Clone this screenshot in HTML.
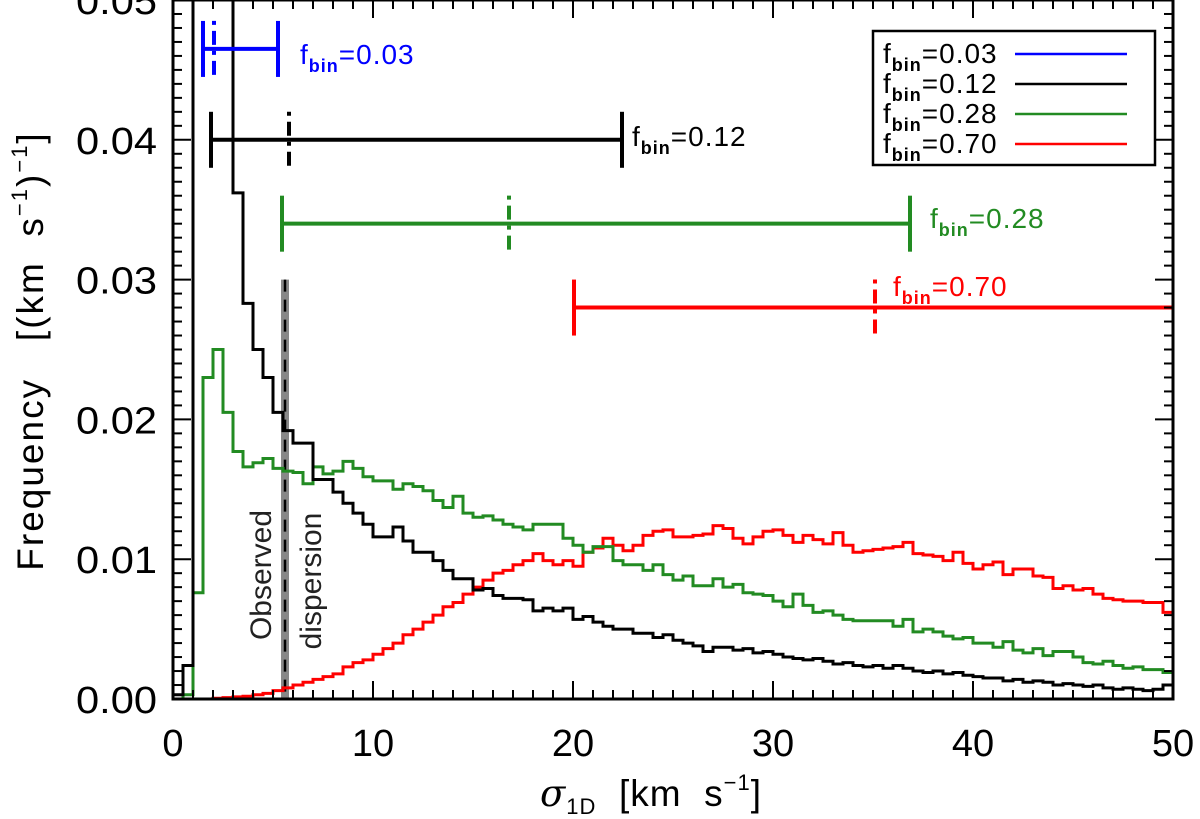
<!DOCTYPE html>
<html><head><meta charset="utf-8"><style>
html,body{margin:0;padding:0;background:#fff;}
svg{display:block;font-family:"Liberation Sans","DejaVu Sans",sans-serif;}
</style></head><body>
<svg id="chart" width="1200" height="819" viewBox="0 0 1200 819" xmlns="http://www.w3.org/2000/svg">
<defs><clipPath id="plotclip"><rect x="173" y="0" width="1000" height="699"/></clipPath></defs>
<g id="marks" clip-path="url(#plotclip)"></g>
<g id="axes"></g>
<g id="legend">
  <rect x="873" y="31" width="282" height="134" fill="#fff" stroke="#000" stroke-width="2.5"/>
</g>
<text x="540" y="806" font-size="37" letter-spacing="1"><tspan font-style="italic" font-family="DejaVu Serif, serif">σ</tspan><tspan font-size="22" dy="8">1D</tspan><tspan dy="-8" xml:space="preserve">  [km  s</tspan><tspan font-size="22" dy="-16">−1</tspan><tspan dy="16">]</tspan></text>
<text transform="translate(43,351) rotate(-90)" text-anchor="middle" font-size="37" letter-spacing="2"><tspan xml:space="preserve">Frequency   [(km  s</tspan><tspan font-size="22" dy="-16">−1</tspan><tspan dy="16">)</tspan><tspan font-size="22" dy="-16">−1</tspan><tspan dy="16">]</tspan></text>
<text transform="translate(271,575) rotate(-90)" text-anchor="middle" font-size="30" fill="#222">Observed</text>
<text transform="translate(321,581) rotate(-90)" text-anchor="middle" font-size="30" fill="#222">dispersion</text>
</svg>
<script>
const binStart = 0, binWidth = 0.5;
const blackVals = [0.3,2.4,60,60,60,60,36.2,28.3,25.0,23.0,
20.5,19.2,18.3,18.3,15.7,15.7,14.8,14.0,13.3,12.5,
11.6,11.6,12.3,11.3,10.5,10.5,9.9,9.2,8.6,8.6,
7.8,7.9,7.4,7.2,7.2,7.1,6.3,6.5,6.3,6.5,
5.7,5.9,5.5,5.2,5.0,5.0,4.7,4.7,4.4,4.6,
4.2,4.0,3.8,3.4,3.7,3.7,3.5,3.6,3.3,3.4,
3.2,3.0,2.9,2.8,2.9,2.7,2.5,2.6,2.4,2.3,
2.4,2.2,2.4,2.2,2.0,1.9,2.0,1.8,1.9,1.7,
1.6,1.5,1.5,1.3,1.4,1.2,1.3,1.2,1.0,1.1,
1.0,0.9,1.0,0.8,0.7,0.8,0.7,0.6,0.7,1.0];
const greenVals = [0,0.3,7.6,23.0,25.0,20.5,17.7,16.6,16.9,17.2,
16.5,16.3,16.2,15.4,16.6,16.1,16.3,17.0,16.5,15.9,
15.6,15.6,15.0,15.4,15.2,14.9,14.2,13.7,14.5,13.3,
13.0,13.1,12.8,12.5,12.3,12.1,12.5,12.5,12.5,11.5,
11.0,10.5,10.9,10.9,9.9,9.6,9.6,9.2,9.6,8.9,
8.5,8.8,8.1,8.1,8.6,8.0,8.2,7.6,7.5,7.4,
7.0,6.6,7.5,6.7,6.2,6.3,6.0,5.7,5.6,5.6,
5.6,5.6,5.2,5.7,4.8,5.0,4.8,4.5,4.3,4.4,
4.0,4.0,3.7,4.1,3.5,3.3,3.6,3.1,3.4,3.4,
3.0,2.6,2.5,2.7,2.4,2.2,2.3,2.1,2.1,1.9];
const redVals = [0,0,0,0,0.05,0.1,0.15,0.2,0.3,0.4,
0.6,0.8,1.0,1.2,1.4,1.6,1.8,2.3,2.6,2.8,
3.2,3.6,4.0,4.6,5.0,5.5,6.0,6.6,6.9,7.5,
8.0,8.5,9.0,9.2,9.6,9.9,10.4,9.9,9.6,9.9,
9.5,10.5,10.8,11.5,11.0,10.6,11.0,11.7,12.0,12.1,
11.6,11.6,11.7,11.8,12.4,12.2,11.5,11.1,11.6,12.0,
12.1,11.7,11.2,11.7,11.4,11.1,11.9,11.0,10.5,10.6,
10.7,10.8,10.9,11.2,10.4,10.3,10.2,9.9,10.5,9.7,
9.3,9.6,9.8,8.9,9.3,9.3,8.8,8.7,7.9,8.1,
7.8,7.9,7.5,7.2,7.1,7.0,7.0,6.9,6.9,6.2];
const valueScale = 0.001;
const seriesNames = ["0.03","0.12","0.28","0.70"];
const barLow = [1.5,1.9,5.45,20.05];
const barMid = [2.05,5.8,16.8,35.1];
const barHigh = [5.25,22.45,36.85,60];
const barLevel = [0.0465,0.040,0.034,0.028];
const observedSigma = 5.6;
const observedTop = 0.030;
const xTicks = [0,10,20,30,40,50];
const yTicks = [0,0.01,0.02,0.03,0.04,0.05];
const yTickLabels = ["0.00","0.01","0.02","0.03","0.04","0.05"];

const X0=173, X1=1173, Y0=699, YT=0;
const xs = v => X0 + (v-0)/(50-0)*(X1-X0);
const ys = v => Y0 - (v-0)/(0.05-0)*(Y0-YT);
const NS="http://www.w3.org/2000/svg";
function mk(tag, attrs, parent){const e=document.createElementNS(NS,tag);for(const k in attrs)e.setAttribute(k,attrs[k]);parent.appendChild(e);return e;}
const marks=document.getElementById('marks'), axes=document.getElementById('axes'), svg=document.getElementById('chart'), legend=document.getElementById('legend');

const band = mk('rect',{x:xs(observedSigma)-4,y:ys(observedTop),width:8,height:Y0-ys(observedTop),fill:'#888'},marks);


const dash = mk('line',{x1:xs(observedSigma),x2:xs(observedSigma),y1:ys(observedTop),y2:Y0,stroke:'#000','stroke-width':2.5,'stroke-dasharray':'12,8'},marks);



function hist(vals,color,name){
  let d='M'+xs(binStart)+','+Y0;
  vals.forEach((v,i)=>{const xa=xs(binStart+i*binWidth), xb=xs(binStart+(i+1)*binWidth), y=ys(v*valueScale); d+=' L'+xa+','+y+' L'+xb+','+y;});
  const p=mk('path',{d:d,fill:'none',stroke:color,'stroke-width':3,'stroke-linejoin':'miter'},marks);
  
  
}
hist(redVals,'#f00','histogram-fbin-0.70');
hist(greenVals,'#228b22','histogram-fbin-0.28');
hist(blackVals,'#000','histogram-fbin-0.12');

const colors=['#0000ff','#000','#228b22','#f00'];
const labelPos=[[300,64],[632,146],[930,228],[893,296]];
seriesNames.forEach((n,i)=>{
  const y=ys(barLevel[i]), c=colors[i];
  const g=mk('g',{},marks);
  
  
  mk('line',{x1:xs(barLow[i]),x2:xs(barHigh[i]),y1:y,y2:y,stroke:c,'stroke-width':4},g);
  mk('line',{x1:xs(barLow[i]),x2:xs(barLow[i]),y1:y-28,y2:y+28,stroke:c,'stroke-width':4},g);
  mk('line',{x1:xs(barHigh[i]),x2:xs(barHigh[i]),y1:y-28,y2:y+28,stroke:c,'stroke-width':4},g);
  mk('line',{x1:xs(barMid[i]),x2:xs(barMid[i]),y1:y-28,y2:y+28,stroke:c,'stroke-width':4,'stroke-dasharray':'4,6,14,6'},g);
  const t=mk('text',{x:labelPos[i][0],y:labelPos[i][1],'font-size':28,fill:c,'letter-spacing':1},svg);
  t.innerHTML='f<tspan font-size="18" font-weight="bold" dy="8">bin</tspan><tspan dy="-8">='+n+'</tspan>';
  
  
  const ly=54+i*30;
  const le=mk('g',{},legend);
  
  
  const lt=mk('text',{x:883,y:ly+9,'font-size':28,fill:'#000','letter-spacing':1},le);
  lt.innerHTML='f<tspan font-size="18" font-weight="bold" dy="8">bin</tspan><tspan dy="-8">='+n+'</tspan>';
  mk('line',{x1:1015,x2:1127,y1:ly,y2:ly,stroke:c,'stroke-width':2.5},le);
});

mk('rect',{x:X0,y:YT,width:X1-X0,height:Y0-YT,fill:'none',stroke:'#000','stroke-width':3},axes);
for(let v=0;v<=50;v+=1){
  const x=xs(v), L=(v%10===0)?18:9;
  mk('line',{x1:x,x2:x,y1:Y0,y2:Y0-L,stroke:'#000','stroke-width':2},axes);
  mk('line',{x1:x,x2:x,y1:YT,y2:YT+L,stroke:'#000','stroke-width':2},axes);
}
for(let k=0;k<=50;k++){
  const y=ys(k*0.001), L=(k%10===0)?18:9;
  mk('line',{x1:X0,x2:X0+L,y1:y,y2:y,stroke:'#000','stroke-width':2},axes);
  mk('line',{x1:X1,x2:X1-L,y1:y,y2:y,stroke:'#000','stroke-width':2},axes);
}
xTicks.forEach(v=>{
  const t=mk('text',{x:xs(v),y:756,'font-size':38,'text-anchor':'middle'},axes);
  t.textContent=String(v);
  
  
});
yTicks.forEach((v,i)=>{
  const t=mk('text',{x:157,y:ys(v)+14,'font-size':38,'text-anchor':'end',textLength:81,lengthAdjust:'spacingAndGlyphs'},axes);
  t.textContent=yTickLabels[i];
  
  
});
</script>
</body></html>
